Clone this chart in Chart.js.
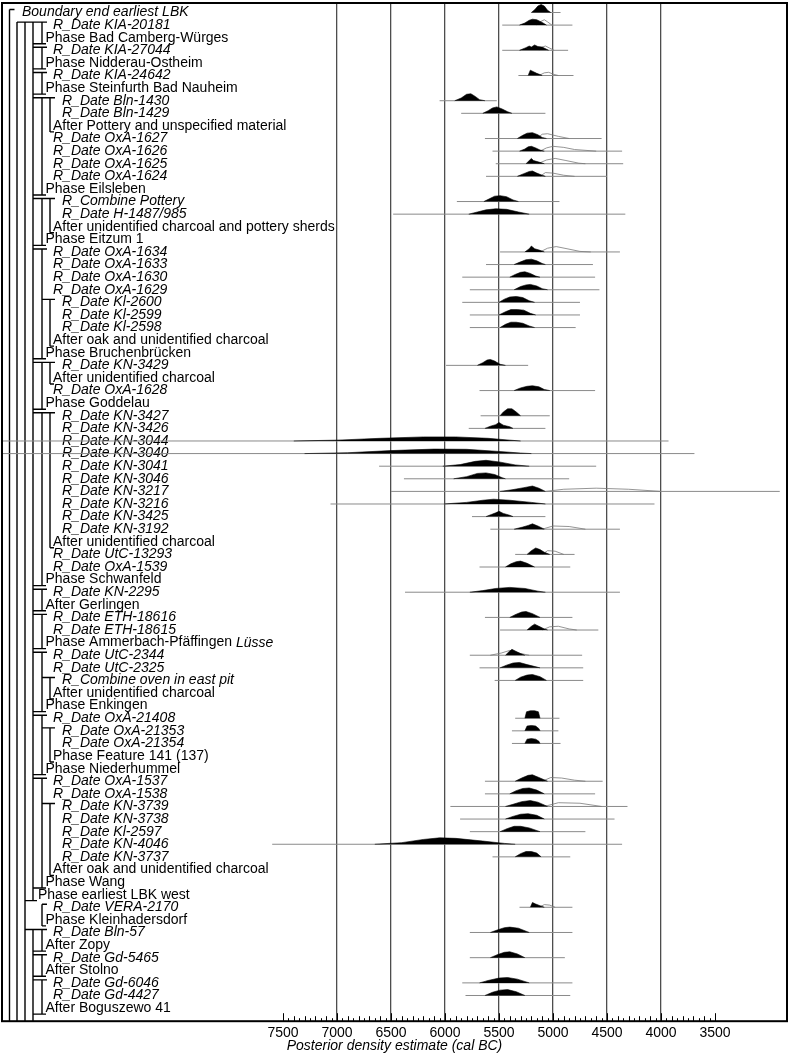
<!DOCTYPE html>
<html>
<head>
<meta charset="utf-8">
<script src="https://cdn.jsdelivr.net/npm/chart.js@4.4.1/dist/chart.umd.min.js"></script>
<style>
  body { margin: 0; background: #fff; }
</style>
</head>
<body>
<canvas id="visualization" width="791" height="1056"></canvas>
<script>
// Model rows, top to bottom
var rowLabels = [
  'Boundary end earliest LBK', 'R_Date KIA-20181', 'Phase Bad Camberg-Würges', 'R_Date KIA-27044',
  'Phase Nidderau-Ostheim', 'R_Date KIA-24642', 'Phase Steinfurth Bad Nauheim', 'R_Date Bln-1430',
  'R_Date Bln-1429', 'After Pottery and unspecified material', 'R_Date OxA-1627', 'R_Date OxA-1626',
  'R_Date OxA-1625', 'R_Date OxA-1624', 'Phase Eilsleben', 'R_Combine Pottery',
  'R_Date H-1487/985', 'After unidentified charcoal and pottery sherds', 'Phase Eitzum 1', 'R_Date OxA-1634',
  'R_Date OxA-1633', 'R_Date OxA-1630', 'R_Date OxA-1629', 'R_Date Kl-2600',
  'R_Date Kl-2599', 'R_Date Kl-2598', 'After oak and unidentified charcoal', 'Phase Bruchenbrücken',
  'R_Date KN-3429', 'After unidentified charcoal', 'R_Date OxA-1628', 'Phase Goddelau',
  'R_Date KN-3427', 'R_Date KN-3426', 'R_Date KN-3044', 'R_Date KN-3040',
  'R_Date KN-3041', 'R_Date KN-3046', 'R_Date KN-3217', 'R_Date KN-3216',
  'R_Date KN-3425', 'R_Date KN-3192', 'After unidentified charcoal', 'R_Date UtC-13293',
  'R_Date OxA-1539', 'Phase Schwanfeld', 'R_Date KN-2295', 'After Gerlingen',
  'R_Date ETH-18616', 'R_Date ETH-18615', 'Phase Ammerbach-Pfäffingen', 'R_Date UtC-2344',
  'R_Date UtC-2325', 'R_Combine oven in east pit', 'After unidentified charcoal', 'Phase Enkingen',
  'R_Date OxA-21408', 'R_Date OxA-21353', 'R_Date OxA-21354', 'Phase Feature 141 (137)',
  'Phase Niederhummel', 'R_Date OxA-1537', 'R_Date OxA-1538', 'R_Date KN-3739',
  'R_Date KN-3738', 'R_Date Kl-2597', 'R_Date KN-4046', 'R_Date KN-3737',
  'After oak and unidentified charcoal', 'Phase Wang', 'Phase earliest LBK west', 'R_Date VERA-2170',
  'Phase Kleinhadersdorf', 'R_Date Bln-57', 'After Zopy', 'R_Date Gd-5465',
  'After Stolno', 'R_Date Gd-6046', 'R_Date Gd-4427', 'After Boguszewo 41'
];
// nesting depth of each row label
var rowLevel = [
  0, 3, 2, 3, 2, 3, 2, 4, 4, 3, 3, 3, 3, 3, 2, 4, 4, 3, 2, 3,
  3, 3, 3, 4, 4, 4, 3, 2, 4, 3, 3, 2, 4, 4, 4, 4, 4, 4, 4, 4,
  4, 4, 3, 3, 3, 2, 3, 2, 3, 3, 2, 3, 3, 4, 3, 2, 3, 4, 4, 3,
  2, 3, 3, 4, 4, 4, 4, 4, 3, 2, 1, 3, 2, 3, 2, 3, 2, 3, 3, 2
];
var italicTail = { 51: 'Lüsse' };

// dated rows (1-based row number), 95.4% range ends (cal BC)
var dateRows = [1, 2, 4, 6, 8, 9, 11, 12, 13, 14, 16, 17, 20, 21, 22, 23, 24, 25, 26, 29,
  31, 33, 34, 35, 36, 37, 38, 39, 40, 41, 42, 44, 45, 47, 49, 50, 52, 53, 54, 57,
  58, 59, 62, 63, 64, 65, 66, 67, 68, 72, 74, 76, 78, 79];
var rangeFrom = [5200, 5470, 5470, 5320, 6050, 5850, 5630, 5560, 5530, 5620, 5890, 6480, 5490, 5620, 5840, 5770, 5840, 5770, 5770, 5990,
  5680, 5670, 5780, 10200, 10200, 6610, 6380, 6500, 7060, 5750, 5580, 5350, 5680, 6370, 5630, 5490, 5770, 5680, 5540, 5350,
  5380, 5380, 5630, 5630, 5950, 5860, 5770, 7600, 5560, 5310, 5770, 5770, 5840, 5810];
var rangeTo = [4930, 4820, 4860, 4810, 5520, 5070, 4550, 4360, 4350, 4500, 4940, 4330, 4380, 4630, 4610, 4570, 4750, 4750, 4790, 5230,
  4610, 5030, 5070, 3930, 3690, 4600, 4850, 2900, 4060, 5070, 4380, 4800, 4840, 4380, 4820, 4580, 4730, 4720, 4720, 4940,
  4950, 4930, 4540, 4610, 4310, 4430, 4700, 4360, 4840, 4820, 4820, 4890, 4820, 4840];

// posterior density outlines: [cal BC, relative density]
var posterior = [
  [[5200,0],[5170,0.25],[5140,0.6],[5110,0.75],[5080,0.6],[5050,0.2],[5020,0]],
  [[5310,0],[5260,0.2],[5220,0.45],[5190,0.55],[5150,0.5],[5100,0.25],[5060,0]],
  [[5310,0],[5250,0.25],[5220,0.4],[5200,0.3],[5170,0.5],[5140,0.35],[5100,0.3],[5040,0]],
  [[5230,0],[5210,0.5],[5180,0.35],[5150,0.2],[5110,0.05],[5100,0]],
  [[5910,0],[5850,0.25],[5800,0.6],[5760,0.65],[5720,0.4],[5680,0.1],[5630,0]],
  [[5650,0],[5600,0.25],[5560,0.5],[5520,0.6],[5470,0.4],[5420,0.15],[5380,0]],
  [[5330,0],[5280,0.3],[5240,0.5],[5190,0.55],[5140,0.35],[5100,0.1],[5060,0]],
  [[5310,0],[5260,0.2],[5230,0.4],[5200,0.45],[5160,0.3],[5120,0.1],[5080,0]],
  [[5250,0],[5220,0.3],[5200,0.5],[5180,0.3],[5130,0.15],[5080,0]],
  [[5330,0],[5270,0.25],[5220,0.45],[5190,0.5],[5150,0.3],[5100,0.1],[5070,0]],
  [[5640,0],[5590,0.25],[5540,0.5],[5490,0.55],[5430,0.45],[5370,0.15],[5320,0]],
  [[5780,0],[5700,0.2],[5620,0.4],[5530,0.5],[5430,0.45],[5320,0.2],[5220,0]],
  [[5260,0],[5220,0.3],[5200,0.55],[5170,0.3],[5120,0.15],[5080,0]],
  [[5360,0],[5300,0.25],[5250,0.45],[5200,0.5],[5150,0.35],[5100,0.1],[5070,0]],
  [[5400,0],[5350,0.25],[5300,0.45],[5260,0.5],[5210,0.35],[5160,0.1],[5120,0]],
  [[5360,0],[5300,0.3],[5250,0.45],[5210,0.5],[5150,0.35],[5100,0.1],[5050,0]],
  [[5500,0],[5450,0.3],[5400,0.5],[5340,0.55],[5280,0.45],[5220,0.15],[5170,0]],
  [[5500,0],[5440,0.3],[5390,0.5],[5330,0.5],[5270,0.45],[5210,0.15],[5160,0]],
  [[5490,0],[5440,0.3],[5390,0.5],[5340,0.5],[5280,0.4],[5220,0.15],[5170,0]],
  [[5700,0],[5650,0.25],[5610,0.5],[5580,0.55],[5540,0.4],[5490,0.1],[5440,0]],
  [[5360,0],[5300,0.25],[5240,0.4],[5190,0.45],[5130,0.35],[5080,0.1],[5030,0]],
  [[5490,0],[5460,0.35],[5420,0.65],[5380,0.65],[5340,0.35],[5300,0]],
  [[5630,0],[5580,0.2],[5530,0.35],[5500,0.55],[5460,0.3],[5400,0.15],[5370,0]],
  [[7400,0],[7000,0.08],[6600,0.25],[6200,0.38],[5900,0.38],[5600,0.25],[5400,0.08],[5300,0]],
  [[7300,0],[6900,0.08],[6500,0.28],[6100,0.42],[5800,0.4],[5500,0.2],[5300,0.05],[5200,0]],
  [[6020,0],[5860,0.15],[5720,0.45],[5620,0.55],[5500,0.4],[5350,0.12],[5220,0]],
  [[5920,0],[5800,0.2],[5700,0.5],[5620,0.55],[5540,0.4],[5470,0.1],[5440,0]],
  [[5490,0],[5380,0.15],[5270,0.35],[5190,0.5],[5130,0.3],[5070,0]],
  [[6010,0],[5800,0.15],[5650,0.35],[5550,0.45],[5400,0.35],[5200,0.15],[5070,0]],
  [[5620,0],[5570,0.2],[5530,0.35],[5500,0.5],[5460,0.3],[5400,0.12],[5370,0]],
  [[5360,0],[5280,0.2],[5230,0.35],[5190,0.5],[5140,0.3],[5080,0]],
  [[5240,0],[5200,0.35],[5160,0.6],[5120,0.45],[5080,0.2],[5030,0]],
  [[5440,0],[5390,0.3],[5340,0.5],[5300,0.55],[5240,0.35],[5170,0]],
  [[5770,0],[5650,0.15],[5530,0.35],[5400,0.45],[5260,0.35],[5140,0.1],[5070,0]],
  [[5400,0],[5340,0.3],[5290,0.5],[5250,0.55],[5190,0.35],[5120,0]],
  [[5240,0],[5200,0.35],[5170,0.55],[5130,0.35],[5080,0.1],[5050,0]],
  [[5440,0],[5410,0.3],[5380,0.55],[5350,0.4],[5300,0.15],[5260,0]],
  [[5490,0],[5430,0.25],[5370,0.45],[5310,0.5],[5240,0.3],[5120,0]],
  [[5350,0],[5300,0.3],[5240,0.5],[5190,0.55],[5120,0.35],[5060,0]],
  [[5260,0],[5245,0.6],[5210,0.7],[5170,0.7],[5135,0.6],[5120,0]],
  [[5260,0],[5240,0.45],[5200,0.5],[5160,0.45],[5130,0.2],[5120,0]],
  [[5260,0],[5240,0.4],[5200,0.45],[5160,0.4],[5130,0.2],[5120,0]],
  [[5350,0],[5290,0.3],[5230,0.55],[5190,0.6],[5130,0.35],[5050,0]],
  [[5400,0],[5340,0.3],[5280,0.5],[5220,0.55],[5150,0.35],[5080,0]],
  [[5440,0],[5370,0.2],[5290,0.45],[5210,0.55],[5140,0.4],[5050,0]],
  [[5440,0],[5370,0.25],[5300,0.45],[5230,0.5],[5150,0.35],[5080,0]],
  [[5490,0],[5420,0.3],[5360,0.5],[5300,0.5],[5220,0.35],[5120,0]],
  [[6650,0],[6400,0.15],[6200,0.45],[6050,0.6],[5900,0.55],[5650,0.3],[5450,0.08],[5350,0]],
  [[5350,0],[5300,0.3],[5250,0.5],[5200,0.5],[5150,0.35],[5110,0]],
  [[5210,0],[5190,0.45],[5160,0.3],[5120,0.15],[5080,0]],
  [[5580,0],[5510,0.25],[5450,0.45],[5400,0.5],[5320,0.4],[5220,0]],
  [[5580,0],[5510,0.3],[5450,0.5],[5400,0.55],[5330,0.35],[5260,0]],
  [[5680,0],[5590,0.25],[5500,0.45],[5420,0.5],[5330,0.35],[5220,0]],
  [[5630,0],[5560,0.3],[5490,0.5],[5420,0.55],[5340,0.35],[5260,0]]
];

// unmodelled likelihoods (outline only)
var likelihoodRows = [2, 4, 6, 11, 12, 13, 14, 20, 39, 42, 44, 50, 52, 62, 64, 72];
var likelihood = [
  [[5150,0],[5110,0.35],[5080,0.5],[5050,0.3],[5010,0]],
  [[5130,0],[5100,0.3],[5070,0.4],[5030,0.2],[4990,0]],
  [[5130,0],[5080,0.25],[5040,0.3],[4990,0.1],[4950,0]],
  [[5150,0],[5100,0.4],[5050,0.45],[4950,0.2],[4850,0]],
  [[5120,0],[5060,0.3],[5000,0.45],[4900,0.35],[4800,0.15],[4600,0]],
  [[5140,0],[5060,0.35],[4980,0.5],[4880,0.3],[4760,0.05],[4700,0]],
  [[5120,0],[5070,0.35],[5000,0.3],[4900,0.1],[4800,0]],
  [[5120,0],[5050,0.35],[4970,0.5],[4870,0.3],[4750,0.05],[4650,0]],
  [[5070,0],[4900,0.2],[4600,0.3],[4300,0.2],[4000,0]],
  [[5100,0],[5000,0.3],[4850,0.25],[4700,0]],
  [[5100,0],[5050,0.35],[4980,0.3],[4900,0]],
  [[5100,0],[5030,0.3],[4950,0.35],[4850,0.1],[4780,0]],
  [[5580,0],[5480,0.2],[5400,0.45],[5320,0.2],[5220,0]],
  [[5100,0],[5020,0.35],[4920,0.3],[4800,0.1],[4700,0]],
  [[5080,0],[4950,0.35],[4750,0.3],[4550,0]],
  [[5130,0],[5080,0.25],[5030,0.2],[4980,0]]
];

var tickLabels = [7500, 7000, 6500, 6000, 5500, 5000, 4500, 4000, 3500];

var FONT = '"Liberation Sans", Arial, sans-serif';
var DENS = 0.85; // row heights per unit density
var levelX = [22, 38, 45.5, 53, 62];

// bracket layout: [x, first row, last row (null = to bottom), top hook from, bottom hook from]
var brackets = [
  [9.5, 1, null, 9.5], [17, 2, null, 17], [25, 2, null, 17], [33, 2, 71, 17, 25], [33, 74, null, 25],
  [42, 2, 3, 17, 33], [42, 4, 5, 33, 33], [42, 6, 7, 33, 33], [42, 8, 15, 33, 33], [42, 16, 19, 33, 33],
  [42, 20, 28, 33, 33], [42, 29, 32, 33, 33], [42, 33, 46, 33, 33], [42, 47, 48, 33, 33], [42, 49, 51, 33, 33],
  [42, 52, 56, 33, 33], [42, 57, 61, 33, 33], [42, 62, 70, 33, 33], [42, 72, 73, 42, 42], [42, 74, 75, 33, 33],
  [42, 76, 77, 33, 33], [42, 78, 80, 33, 33],
  [50, 8, 10, 42, 50], [50, 16, 18, 42, 50], [50, 24, 27, 42, 50], [50, 29, 30, 42, 50], [50, 33, 43, 42, 50],
  [50, 54, 55, 42, 50], [50, 58, 60, 42, 50], [50, 64, 69, 42, 50]
];

var datasets = [];
dateRows.forEach(function(row, i) {
  datasets.push({
    data: [{x: rangeFrom[i], y: row}, {x: rangeTo[i], y: row}],
    borderColor: '#8a8a8a', borderWidth: 1, fill: false, order: 3
  });
  datasets.push({
    data: posterior[i].map(function(p) { return {x: p[0], y: row - p[1] * DENS}; }),
    borderColor: '#000', backgroundColor: '#000', borderWidth: 0.6, fill: {value: row}, order: 1
  });
});
likelihoodRows.forEach(function(row, i) {
  datasets.push({
    data: likelihood[i].map(function(p) { return {x: p[0], y: row - p[1] * DENS}; }),
    borderColor: '#7a7a7a', borderWidth: 0.8, fill: false, order: 2
  });
});

var modelPlugin = {
  id: 'model',
  beforeDatasetsDraw: function(chart) {
    var ctx = chart.ctx, y = chart.scales.y, area = chart.chartArea;
    ctx.save();
    ctx.fillStyle = '#000';
    ctx.textBaseline = 'middle';
    rowLabels.forEach(function(label, i) {
      var row = i + 1, py = y.getPixelForValue(row), px = levelX[rowLevel[i]];
      var italic = label.indexOf('R_') === 0 || label.indexOf('Boundary') === 0;
      ctx.font = (italic ? 'italic ' : '') + '14px ' + FONT;
      ctx.fillText(label, px, py);
      if (italicTail[row]) {
        var w = ctx.measureText(label + ' ').width;
        ctx.font = 'italic 14px ' + FONT;
        ctx.fillText(italicTail[row], px + w, py);
      }
    });
    // phase / sequence brackets
    ctx.strokeStyle = '#000';
    ctx.lineWidth = 1.4;
    ctx.beginPath();
    brackets.forEach(function(b) {
      var top = y.getPixelForValue(b[1]) - 3;
      var bottom = b[2] ? y.getPixelForValue(b[2]) + 6 : area.bottom;
      ctx.moveTo(b[0], top); ctx.lineTo(b[0], bottom);
      ctx.moveTo(b[3], top); ctx.lineTo(b[0] + 5, top);
      if (b[2]) { ctx.moveTo(b[4], bottom); ctx.lineTo(b[0] + 4, bottom); }
    });
    ctx.stroke();
    ctx.restore();
  },
  afterDraw: function(chart) {
    var ctx = chart.ctx, x = chart.scales.x, area = chart.chartArea;
    ctx.save();
    ctx.strokeStyle = '#000';
    // minor ticks on the time axis
    ctx.lineWidth = 1;
    ctx.beginPath();
    var lo = Math.min.apply(null, tickLabels), hi = Math.max.apply(null, tickLabels);
    for (var v = lo; v <= hi; v += 50) {
      var px = Math.round(x.getPixelForValue(v)) + 0.5;
      var len = v % 500 === 0 ? 8 : (v % 100 === 0 ? 5 : 3);
      ctx.moveTo(px, area.bottom); ctx.lineTo(px, area.bottom - len);
    }
    ctx.stroke();
    // frame
    ctx.lineWidth = 2;
    ctx.strokeRect(area.left, area.top, area.right - area.left, area.bottom - area.top);
    ctx.restore();
  }
};

var ctx = document.getElementById('visualization').getContext('2d');
var myChart = new Chart(ctx, {
  type: 'line',
  data: { datasets: datasets },
  options: {
    responsive: false,
    animation: false,
    events: [],
    layout: { padding: { left: 2, right: 4, top: 3, bottom: 8 } },
    elements: { point: { radius: 0 }, line: { tension: 0 } },
    plugins: { legend: { display: false }, tooltip: { enabled: false } },
    scales: {
      x: {
        type: 'linear',
        reverse: true,
        min: 2833,
        max: 10102,
        afterBuildTicks: function(axis) {
          axis.ticks = tickLabels.map(function(v) { return {value: v}; });
        },
        grid: {
          drawTicks: false,
          lineWidth: 1.3,
          color: function(c) {
            var v = c.tick ? c.tick.value : 0;
            return (v >= 4000 && v <= 7000) ? '#4d4d4d' : 'rgba(0,0,0,0)';
          }
        },
        border: { display: false },
        ticks: {
          padding: 5,
          color: '#000',
          maxRotation: 0,
          autoSkip: false,
          font: { family: FONT, size: 14, lineHeight: 1 },
          callback: function(v) { return String(v); }
        },
        title: {
          display: true,
          text: 'Posterior density estimate (cal BC)',
          color: '#000',
          padding: 0,
          font: { family: FONT, size: 14, style: 'italic', lineHeight: 0.2 }
        }
      },
      y: {
        type: 'linear',
        display: false,
        reverse: true,
        min: 0.246,
        max: 81.04
      }
    }
  },
  plugins: [modelPlugin]
});
</script>
</body>
</html>
